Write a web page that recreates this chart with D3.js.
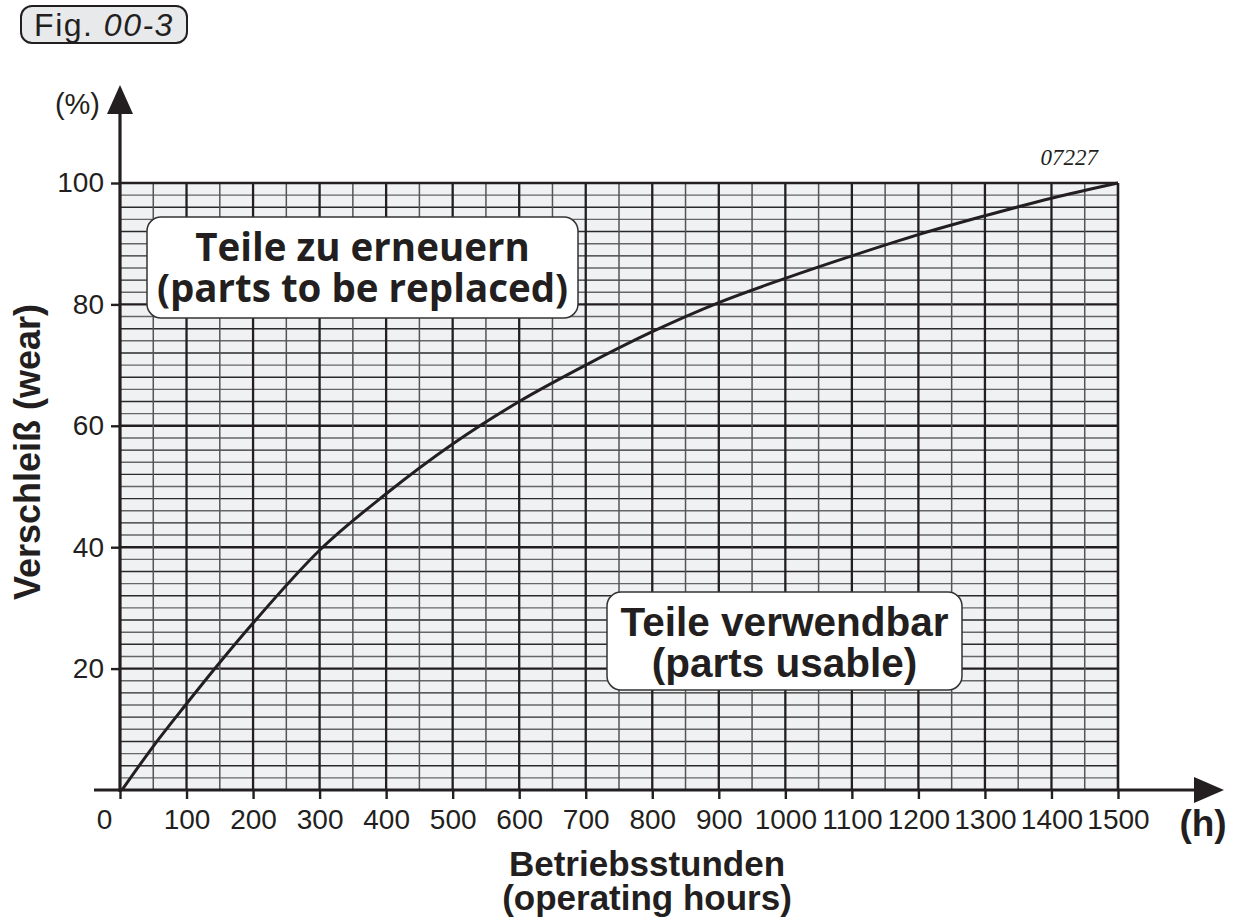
<!DOCTYPE html>
<html>
<head>
<meta charset="utf-8">
<script src="https://cdn.jsdelivr.net/npm/d3@7"></script>
<style>
  body { margin: 0; background: #fff; }
  svg { display: block; }
  text { fill: #231f20; }
</style>
</head>
<body>
<div id="chart"></div>
<script>
// operating hours vs. wear (%)
var hours = [3, 50, 100, 150, 200, 300, 400, 500, 600, 700, 800, 900, 1000, 1100, 1200, 1300, 1400, 1500];
var wear  = [0, 7.2, 14.2, 21, 27.5, 39.5, 48.8, 57, 64, 70, 75.5, 80.3, 84.3, 88, 91.5, 94.6, 97.5, 100];

var xTicks = [0, 100, 200, 300, 400, 500, 600, 700, 800, 900, 1000, 1100, 1200, 1300, 1400, 1500];
var yTicks = [20, 40, 60, 80, 100];

var width = 1236, height = 922;
var ink = '#231f20';
var sans = 'Liberation Sans, Arial, Helvetica, sans-serif';

var svg = d3.select('#chart').append('svg')
    .attr('width', width)
    .attr('height', height);

var x = d3.scaleLinear().domain([0, 1500]).range([120, 1118]);
var y = d3.scaleLinear().domain([0, 100]).range([790, 183]);

// figure tag
var fig = svg.append('g');
fig.append('rect')
    .attr('x', 21).attr('y', 6).attr('width', 166).attr('height', 37)
    .attr('rx', 11)
    .attr('fill', '#e8e9eb').attr('stroke', ink).attr('stroke-width', 2);
var figText = fig.append('text')
    .attr('x', 104).attr('y', 36)
    .attr('text-anchor', 'middle')
    .style('font-family', sans)
    .style('font-size', '32px')
    .style('letter-spacing', '1.5px');
figText.append('tspan').text('Fig. ');
figText.append('tspan').style('font-style', 'italic').text('00-3');

// grid background
svg.append('rect')
    .attr('x', x(0)).attr('y', y(100))
    .attr('width', x(1500) - x(0)).attr('height', y(0) - y(100))
    .attr('fill', '#f0f1f3');

var grid = svg.append('g');

// horizontal grid, every 2 %
grid.selectAll('line.h')
    .data(d3.range(2, 100, 2))
    .enter().append('line')
    .attr('class', 'h')
    .attr('x1', x(0)).attr('x2', x(1500))
    .attr('y1', d => y(d)).attr('y2', d => y(d))
    .attr('stroke', d => d % 20 === 0 ? ink : (d % 4 === 0 ? '#2a2a2a' : '#666'))
    .attr('stroke-width', d => d % 20 === 0 ? 2.4 : 1.4);

// vertical grid, every 50 h
grid.selectAll('line.v')
    .data(d3.range(50, 1500, 50))
    .enter().append('line')
    .attr('class', 'v')
    .attr('x1', d => x(d)).attr('x2', d => x(d))
    .attr('y1', y(0)).attr('y2', y(100))
    .attr('stroke', d => d % 100 === 0 ? ink : '#555')
    .attr('stroke-width', d => d % 100 === 0 ? 2.3 : 1.5);

// frame top / right
grid.append('line')
    .attr('x1', x(0)).attr('x2', x(1500)).attr('y1', y(100)).attr('y2', y(100))
    .attr('stroke', ink).attr('stroke-width', 2.6);
grid.append('line')
    .attr('x1', x(1500)).attr('x2', x(1500)).attr('y1', y(0)).attr('y2', y(100))
    .attr('stroke', ink).attr('stroke-width', 2.6);

// label boxes, two lines in one text element
function labelBox(bx, by, bw, bh, lines, family, size) {
    var g = svg.append('g');
    g.append('rect')
        .attr('x', bx).attr('y', by).attr('width', bw).attr('height', bh)
        .attr('rx', 14)
        .attr('fill', '#fff').attr('stroke', '#333').attr('stroke-width', 1.5);
    var t = g.append('text')
        .attr('text-anchor', 'middle')
        .style('font-family', family)
        .style('font-weight', 'bold')
        .style('font-size', size + 'px');
    lines.forEach(function (s, i) {
        t.append('tspan')
            .attr('x', bx + bw / 2)
            .attr('y', by + 44 + i * 41)
            .text(s);
    });
}

labelBox(147, 217, 431, 101, ['Teile zu erneuern', '(parts to be replaced)'], 'Open Sans, Noto Sans, sans-serif', 38.5);
labelBox(607, 592, 355, 98, ['Teile verwendbar', '(parts usable)'], sans, 40.5);

// wear curve
var line = d3.line()
    .x((d, i) => x(hours[i]))
    .y(d => y(d))
    .curve(d3.curveMonotoneX);

svg.append('path')
    .datum(wear)
    .attr('d', line)
    .attr('fill', 'none')
    .attr('stroke', ink)
    .attr('stroke-width', 3);

// axes
var yAxis = svg.append('g')
    .attr('transform', 'translate(' + x(0) + ',0)')
    .call(d3.axisLeft(y).tickValues(yTicks).tickSize(9).tickPadding(7).tickFormat(d3.format('d')));
var xAxis = svg.append('g')
    .attr('transform', 'translate(0,' + y(0) + ')')
    .call(d3.axisBottom(x).tickValues(xTicks).tickSize(9).tickPadding(10).tickFormat(d3.format('d')));

[yAxis, xAxis].forEach(function (a) {
    a.select('.domain').remove();
    a.selectAll('.tick line').attr('stroke', ink).attr('stroke-width', 2.4);
    a.selectAll('.tick text')
        .attr('fill', ink)
        .style('font-family', sans)
        .style('font-size', '28px');
});
xAxis.selectAll('.tick text').filter(d => d === 0).attr('dx', -16);

// axis lines with arrow heads
svg.append('line')
    .attr('x1', x(0)).attr('x2', x(0))
    .attr('y1', y(0) + 2).attr('y2', 110)
    .attr('stroke', ink).attr('stroke-width', 3.2);
svg.append('path')
    .attr('d', 'M120,85 L107,114 L133,114 Z')
    .attr('fill', ink);

svg.append('line')
    .attr('x1', 94).attr('x2', 1198)
    .attr('y1', y(0)).attr('y2', y(0))
    .attr('stroke', ink).attr('stroke-width', 3.2);
svg.append('path')
    .attr('d', 'M1224,790 L1194,777 L1194,803 Z')
    .attr('fill', ink);

// axis titles
svg.append('text')
    .attr('x', 100).attr('y', 114)
    .attr('text-anchor', 'end')
    .style('font-family', sans)
    .style('font-size', '29px')
    .text('(%)');

svg.append('text')
    .attr('x', 1203).attr('y', 836)
    .attr('text-anchor', 'middle')
    .style('font-family', sans)
    .style('font-weight', 'bold')
    .style('font-size', '37px')
    .text('(h)');

var xTitle = svg.append('text')
    .attr('text-anchor', 'middle')
    .style('font-family', sans)
    .style('font-weight', 'bold')
    .style('font-size', '35px');
xTitle.append('tspan').attr('x', 647).attr('y', 876).text('Betriebsstunden');
xTitle.append('tspan').attr('x', 647).attr('y', 910).text('(operating hours)');

svg.append('text')
    .attr('transform', 'translate(40,452) rotate(-90)')
    .attr('text-anchor', 'middle')
    .style('font-family', sans)
    .style('font-weight', 'bold')
    .style('font-size', '36px')
    .text('Verschleiß (wear)');

svg.append('text')
    .attr('x', 1098).attr('y', 165)
    .attr('text-anchor', 'end')
    .style('font-family', 'Liberation Serif, Times New Roman, serif')
    .style('font-style', 'italic')
    .style('font-size', '23px')
    .text('07227');
</script>
</body>
</html>
